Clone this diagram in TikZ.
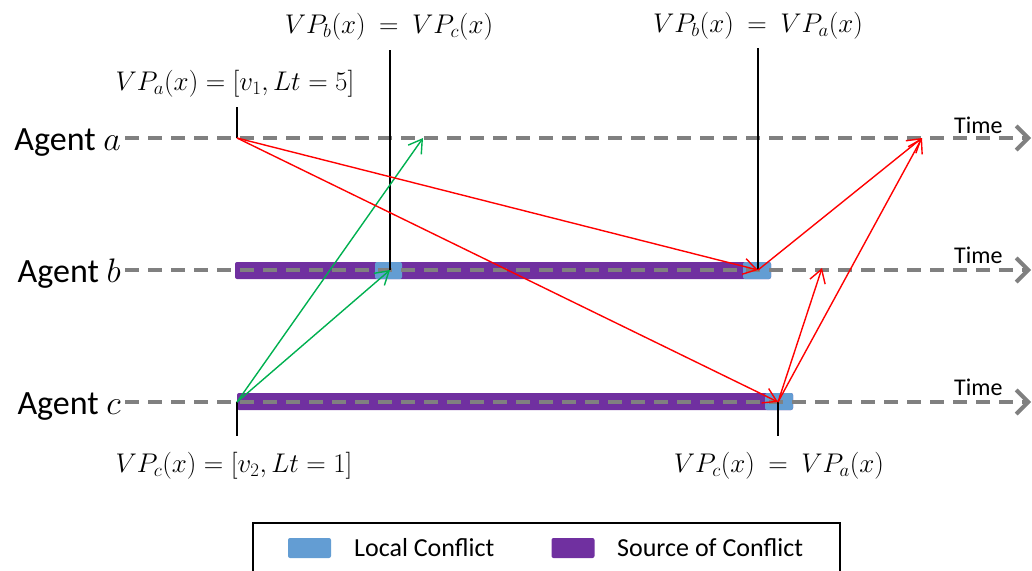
\RequirePackage{fix-cm}
\documentclass[tikz,border=0pt]{standalone}
\usepackage{fontspec}
\setmainfont{Carlito}
\usetikzlibrary{arrows.meta}
\definecolor{tlgray}{RGB}{128,128,128}
\definecolor{srcpurple}{RGB}{112,48,160}
\definecolor{locblue}{RGB}{99,157,211}
\definecolor{arrred}{RGB}{255,0,0}
\definecolor{arrgreen}{RGB}{0,176,80}
\begin{document}
\begin{tikzpicture}[x=1pt,y=-1pt,
  timeline/.style={draw=tlgray,line width=4pt,dash pattern=on 14pt off 9pt,
    -{Straight Barb[length=12pt,width=24pt]}},
  agentlbl/.style={inner sep=0pt,font=\fontsize{34}{38}\selectfont},
  timelbl/.style={inner sep=0pt,font=\fontsize{24}{28}\selectfont,anchor=base west},
  vplbl/.style={inner sep=0pt,font=\fontsize{27}{31}\selectfont,anchor=base},
  marker/.style={draw=black,line width=1.5pt},
  srcbar/.style={fill=srcpurple,rounded corners=2pt},
  locbar/.style={fill=locblue,rounded corners=2pt},
  redarr/.style={draw=arrred,line width=1.4pt,-{Straight Barb[length=13pt,width=16pt]}},
  greenarr/.style={draw=arrgreen,line width=1.4pt,-{Straight Barb[length=13pt,width=16pt]}},
  swatch/.style={inner sep=0pt,minimum width=43pt,minimum height=20pt,rounded corners=2pt},
  legtext/.style={inner sep=0pt,font=\fontsize{26}{30}\selectfont,anchor=west},
]
\useasboundingbox (0,0) rectangle (1032,570);

% agent labels
\node[agentlbl,anchor=base east] (la) at (121,150) {Agent $a$};
\node[agentlbl,anchor=base east] (lb) at (121,282) {Agent $b$};
\node[agentlbl,anchor=base east] (lc) at (121,414) {Agent $c$};

% timeline coordinates
\coordinate (a0) at (125,138); \coordinate (a1) at (1031,138);
\coordinate (b0) at (125,270); \coordinate (b1) at (1031,270);
\coordinate (c0) at (125,402); \coordinate (c1) at (1031,402);

% conflict bars
\fill[srcbar] (235,262) rectangle (771,279);
\fill[locbar] (375,262) rectangle (402,279);
\fill[locbar] (743,262) rectangle (771,279);
\fill[srcbar] (237,393) rectangle (793,410);
\fill[locbar] (765,393) rectangle (793,410);

% timelines
\draw[timeline] (a0) -- (a1);
\draw[timeline] (b0) -- (b1);
\draw[timeline] (c0) -- (c1);

\node[timelbl] (ta) at (954,133) {Time};
\node[timelbl] (tb) at (954,263) {Time};
\node[timelbl] (tc) at (954,395) {Time};

% event points
\coordinate (ea) at (237,138);
\coordinate (ec) at (237,402);
\coordinate (eb1) at (390,270);
\coordinate (eb2) at (758,270);
\coordinate (ec2) at (778,402);
\coordinate (ga) at (423,138);
\coordinate (ra) at (922,138);
\coordinate (rb) at (822,268);

% marker lines
\coordinate (ma) at (237,107);
\coordinate (mb1) at (390,50);
\coordinate (mb2) at (758,48);
\coordinate (mc) at (237,436);
\coordinate (mc2) at (778,436);
\draw[marker] (ma) -- (ea);
\draw[marker] (mb1) -- (eb1);
\draw[marker] (mb2) -- (eb2);
\draw[marker] (ec) -- (mc);
\draw[marker] (ec2) -- (mc2);

% labels
\node[vplbl] (vpa) at (235,90) {$VP_a(x) = [v_1, Lt = 5]$};
\node[vplbl] (vpbc) at (389,33) {$VP_b(x) \:=\: VP_c(x)$};
\node[vplbl] (vpba) at (758,32) {$VP_b(x) \:=\: VP_a(x)$};
\node[vplbl] (vpc) at (234,472) {$VP_c(x) = [v_2, Lt = 1]$};
\node[vplbl] (vpca) at (779,472) {$VP_c(x) \:=\: VP_a(x)$};

% arrows
\draw[greenarr] (ec) -- (ga);
\draw[greenarr] (ec) -- (eb1);
\draw[redarr] (ea) -- (eb2);
\draw[redarr] (ea) -- (ec2);
\draw[redarr] (eb2) -- (ra);
\draw[redarr] (ec2) -- (ra);
\draw[redarr] (ec2) -- (rb);

% legend
\node[draw=black,line width=1.5pt,inner sep=0pt,minimum width=587pt,minimum height=60pt,anchor=north west] (legend) at (252,522) {};
\node[swatch,fill=locblue] (sw1) at (309.5,548) {};
\node[legtext] (lt1) at (354,548) {Local Conflict};
\node[swatch,fill=srcpurple] (sw2) at (573,548) {};
\node[legtext] (lt2) at (617,548) {Source of Conflict};
\end{tikzpicture}
\end{document}
